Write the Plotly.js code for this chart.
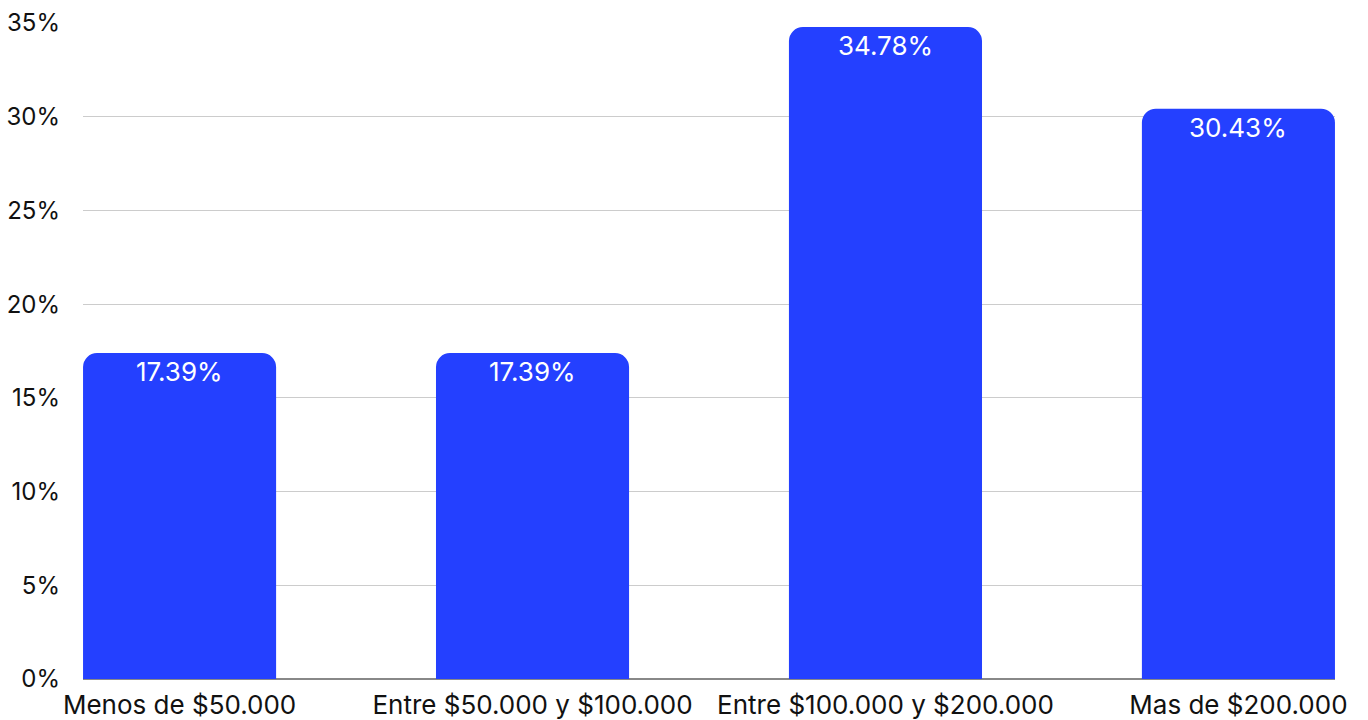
<!DOCTYPE html>
<html>
<head>
<meta charset="utf-8">
<script src="https://cdn.plot.ly/plotly-3.0.1.min.js"></script>
<style>html,body{margin:0;padding:0;background:#fff;}#chart{width:1368px;height:720px;}</style>
</head>
<body>
<div id="chart"></div>
<script>
const categories = ["Menos de $50.000", "Entre $50.000 y $100.000", "Entre $100.000 y $200.000", "Mas de $200.000"];
const values = [17.39, 17.39, 34.78, 30.43];
const yTickVals = [0, 5, 10, 15, 20, 25, 30, 35];
const yTickText = ["0%", "5%", "10%", "15%", "20%", "25%", "30%", "35%"];

const FONT = "Inter, 'Noto Sans', sans-serif";

const trace = {
  type: "bar",
  x: categories,
  y: values,
  marker: { color: "#2440FF", cornerradius: 14 },
  hoverinfo: "skip"
};

const annotations = categories.map((c, i) => ({
  x: c,
  y: values[i],
  xref: "x",
  yref: "y",
  text: values[i].toFixed(2) + "%",
  showarrow: false,
  yanchor: "top",
  xanchor: "center",
  yshift: -1,
  font: { family: FONT, size: 26, color: "#ffffff" }
}));

const layout = {
  width: 1368,
  height: 720,
  margin: { l: 83, r: 33, t: 23, b: 41 },
  paper_bgcolor: "#ffffff",
  plot_bgcolor: "#ffffff",
  showlegend: false,
  bargap: 0.453,
  font: { family: FONT, size: 24, color: "#111111" },
  annotations: annotations,
  xaxis: {
    type: "category",
    range: [-0.2736, 3.2736],
    showgrid: false,
    showline: false,
    zeroline: false,
    ticks: "",
    tickfont: { family: FONT, size: 26, color: "#111111" },
    ticklabelstandoff: 8,
    fixedrange: true
  },
  yaxis: {
    range: [0, 35],
    tickvals: yTickVals,
    ticktext: yTickText,
    showgrid: true,
    gridcolor: "#cccccc",
    gridwidth: 1,
    zeroline: true,
    zerolinecolor: "#888888",
    zerolinewidth: 1.5,
    showline: false,
    ticks: "",
    ticklabelstandoff: 22,
    tickfont: { family: FONT, size: 24, color: "#111111" },
    fixedrange: true
  }
};

Plotly.newPlot("chart", [trace], layout, { displayModeBar: false, staticPlot: true });
</script>
</body>
</html>
